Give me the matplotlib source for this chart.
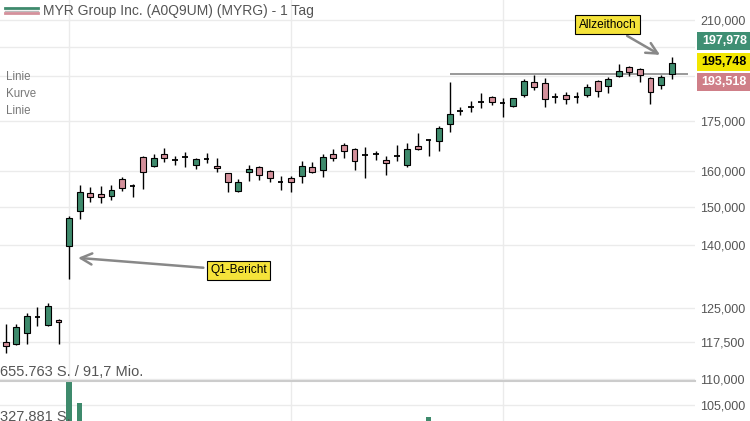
import matplotlib
matplotlib.use("Agg")
import matplotlib.pyplot as plt
import numpy as np
from matplotlib.lines import Line2D
from matplotlib.patches import Rectangle
from matplotlib.ticker import FixedLocator, FixedFormatter, NullLocator

plt.rcParams['font.family'] = ['Liberation Sans', 'DejaVu Sans']

# daily candles (EUR)
opens = [117.63, 117.14, 119.55, 123.05, 121.15, 122.32, 139.69, 148.94, 153.68, 153.41,
         152.94, 157.61, 155.72, 164.16, 161.43, 164.96, 163.18, 164.16, 161.72, 163.48,
         161.52, 159.32, 154.41, 159.61, 161.05, 159.98, 156.93, 157.89, 158.55, 161.05,
         160.27, 164.96, 167.65, 166.36, 164.75, 164.96, 163.18, 164.27, 161.72, 167.35,
         169.17, 168.96, 174.02, 178.25, 179.63, 181.25, 182.90, 180.73, 179.96, 183.46,
         187.70, 187.37, 182.90, 183.46, 182.90, 183.46, 188.14, 186.56, 189.85, 192.95,
         192.15, 189.06, 186.79, 190.53]
highs = [121.44, 121.44, 123.80, 125.28, 126.05, 122.47, 147.61, 156.00, 155.52, 155.72,
         156.00, 158.18, 156.28, 164.36, 164.87, 166.66, 164.36, 165.64, 163.68, 165.17,
         163.68, 159.49, 157.69, 161.72, 161.43, 160.27, 158.64, 158.55, 162.98, 162.51,
         164.96, 166.36, 168.17, 166.66, 167.14, 165.94, 164.36, 167.50, 168.17, 171.41,
         169.39, 173.49, 187.91, 179.63, 181.58, 184.02, 183.13, 182.37, 182.57, 188.72,
         190.19, 189.06, 184.02, 184.55, 184.55, 187.03, 188.48, 189.61, 194.10, 193.30,
         192.50, 189.61, 190.19, 196.35]
lows = [115.32, 116.93, 117.14, 121.00, 121.00, 117.14, 131.70, 146.73, 151.21, 150.94,
        151.84, 154.41, 152.58, 154.88, 161.23, 162.51, 161.72, 161.23, 160.47, 162.39,
        159.61, 153.96, 154.05, 157.21, 157.41, 156.76, 154.60, 153.96, 156.48, 159.32,
        158.35, 162.89, 163.68, 160.27, 157.89, 163.18, 158.84, 162.89, 161.05, 166.15,
        164.36, 165.94, 171.53, 176.97, 178.02, 179.11, 180.18, 176.23, 179.44, 182.70,
        185.12, 179.63, 180.73, 180.51, 180.93, 182.90, 182.90, 184.02, 189.61, 189.85,
        187.91, 180.51, 185.35, 188.72]
closes = [116.72, 120.85, 123.27, 123.05, 125.51, 121.81, 146.92, 153.96, 152.75, 152.75,
          154.60, 155.07, 155.72, 159.61, 163.86, 163.68, 163.18, 164.16, 163.39, 163.48,
          160.76, 156.76, 156.93, 160.47, 158.84, 157.89, 156.93, 156.76, 161.52, 159.78,
          164.07, 163.68, 165.94, 162.89, 164.75, 164.96, 162.22, 164.27, 166.36, 166.45,
          169.17, 172.96, 177.28, 178.25, 179.63, 181.25, 181.25, 180.73, 182.37, 188.14,
          186.02, 182.04, 182.90, 182.04, 182.90, 186.22, 184.88, 188.82, 191.40, 191.22,
          190.19, 184.55, 189.61, 194.24]

# only the volume bars that reach into the visible strip
vol_days = [6, 7, 40]
vol_values = [655763, 488000, 381000]

ytick_vals = [105, 110, 117.5, 125, 140, 150, 160, 175, 190, 200, 210]
hidden_ticks = [190, 200]
month_starts = [6, 27, 47]
ath_level = 190.5
ath_start = 42

quote_labels = ["197,978", "195,748", "193,518"]

GREEN = '#3e8a6c'
PINK = '#d4909b'

fig = plt.figure(figsize=(7.5, 4.21), dpi=100)
ax = fig.add_axes([0, 0, 695 / 750, 1])

n = len(opens)
idx = np.arange(n)
w = 0.55
for i in idx:
    o, h, l, c = opens[i], highs[i], lows[i], closes[i]
    ax.vlines(i, l, h, color='black', lw=1.0, zorder=3)
    if abs(o - c) < 0.05:
        ax.hlines(o, i - w / 2, i + w / 2, color='black', lw=1.3, zorder=4)
    else:
        col = GREEN if c > o else PINK
        ax.bar(i, abs(c - o), bottom=min(o, c), width=w, color=col,
               edgecolor='black', linewidth=0.8, zorder=4)

ax.hlines(ath_level, ath_start, 64.55, color='#999999', lw=1.4, zorder=2)

ax.set_yscale('log')
ax.set_ylim(101.96, 217.70)
ax.set_xlim(-0.54, 65.21)
ax.yaxis.set_major_locator(FixedLocator(ytick_vals))
labels = ["" if v in hidden_ticks else f"{v:.3f}".replace('.', ',') for v in ytick_vals]
ax.yaxis.set_major_formatter(FixedFormatter(labels))
ax.yaxis.set_minor_locator(NullLocator())
ax.yaxis.tick_right()
ax.tick_params(axis='y', length=0, pad=4, labelsize=9, labelcolor='#555555')
ax.set_xticks(month_starts)
ax.tick_params(axis='x', length=0, labelbottom=False)
ax.grid(True, color='#ebebeb', lw=1.0, zorder=0)
ax.set_axisbelow(True)
for s in ax.spines.values():
    s.set_visible(False)

# volume strip at the bottom
vax = fig.add_axes([0, 0, 695 / 750, 40 / 421])
vax.patch.set_alpha(0)
vax.bar(vol_days, [v / 1000 for v in vol_values], width=0.5, color=GREEN, zorder=3)
vax.set_xlim(-0.54, 65.21)
vax.set_ylim(350.75, 655.763)
vax.axis('off')
fig.add_artist(Line2D([0, 695 / 750], [40 / 421, 40 / 421], color='#cccccc', lw=1.5))
fig.text(0.0, 1 - 372 / 421, "655.763 S. / 91,7 Mio.", fontsize=10.5, color='#555555',
         ha='left', va='center')
fig.text(0.0, 1 - 417 / 421, "327.881 S.", fontsize=10.5, color='#555555',
         ha='left', va='center')

# title + legend icon
fig.add_artist(Line2D([5 / 750, 38 / 750], [1 - 8 / 421] * 2, color=GREEN, lw=2))
fig.add_artist(Line2D([5 / 750, 38 / 750], [1 - 10.5 / 421] * 2, color='#bbbbbb', lw=1))
fig.add_artist(Line2D([5 / 750, 38 / 750], [1 - 13 / 421] * 2, color=PINK, lw=2))
fig.text(43 / 750, 1 - 11 / 421, "MYR Group Inc. (A0Q9UM) (MYRG) - 1 Tag", fontsize=10,
         color='#555555', ha='left', va='center')
for k, t in enumerate(["Linie", "Kurve", "Linie"]):
    fig.text(6 / 750, 1 - (77 + 17 * k) / 421, t, fontsize=8.3, color='#777777',
             ha='left', va='center')

# quote boxes on the right
box_cols = ['#3f8f73', '#f2e600', '#cf7f88']
txt_cols = ['white', 'black', 'white']
box_tops = [32, 53, 73]
for lab, bc, tc, top in zip(quote_labels, box_cols, txt_cols, box_tops):
    fig.add_artist(Rectangle((697 / 750, 1 - (top + 18) / 421), 53 / 750, 18 / 421,
                             transform=fig.transFigure, facecolor=bc, edgecolor='none'))
    fig.text(747 / 750, 1 - (top + 9) / 421, lab, fontsize=9, fontweight='bold',
             color=tc, ha='right', va='center')

# annotations
arrow = dict(arrowstyle='->', color='#888888', lw=1.8, mutation_scale=20,
             shrinkA=2, shrinkB=0)
box = dict(boxstyle='square,pad=0.3', facecolor='#f5e33a', edgecolor='black', lw=0.8)
ax.annotate("Allzeithoch", xy=(61.9, 197.2), xytext=(607.5 / 750, 1 - 24.5 / 421),
            textcoords='figure fraction', fontsize=8.6, ha='center', va='center',
            bbox=box, arrowprops=arrow, zorder=6)
ax.annotate("Q1-Bericht", xy=(6.84, 136.8), xytext=(238.5 / 750, 1 - 270.5 / 421),
            textcoords='figure fraction', fontsize=8.6, ha='center', va='center',
            bbox=box, arrowprops=arrow, zorder=6)

fig.savefig("out.png", dpi=100)
